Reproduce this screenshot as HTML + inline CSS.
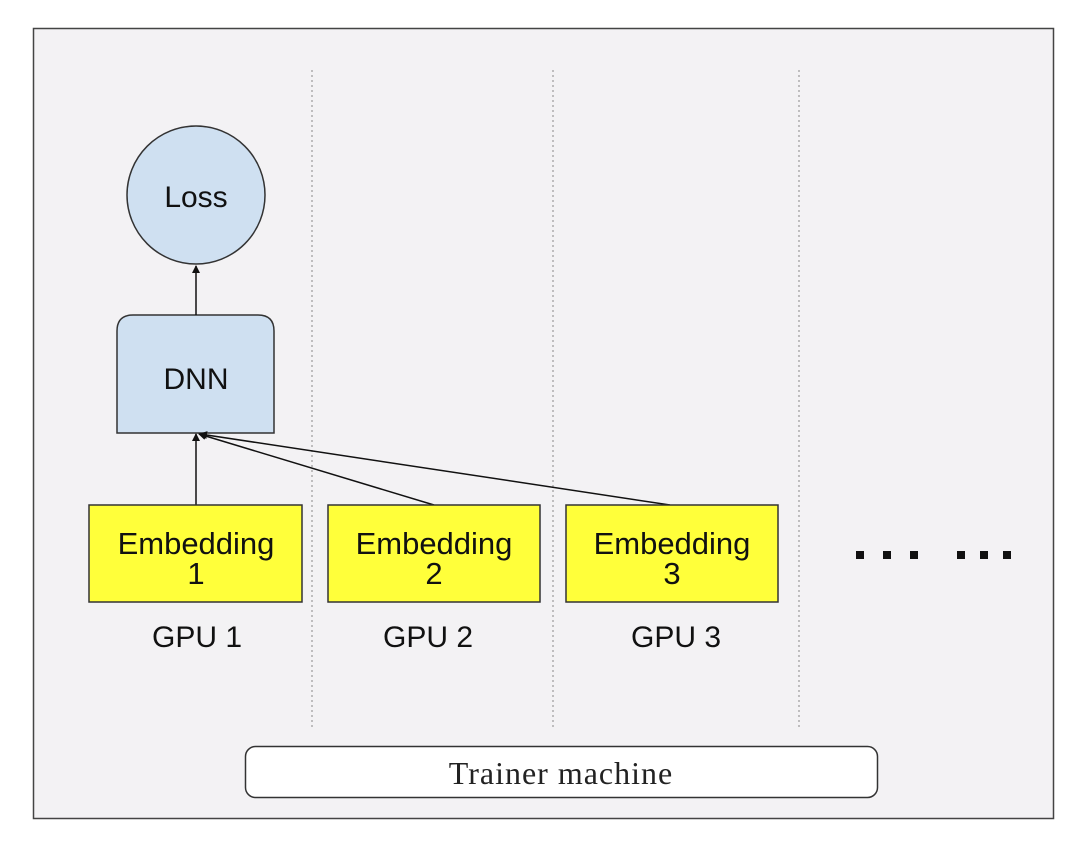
<!DOCTYPE html>
<html><head><meta charset="utf-8"><style>
html,body{margin:0;padding:0;background:#fff;width:1080px;height:841px;overflow:hidden}
</style></head><body>
<svg width="1080" height="841" viewBox="0 0 1080 841" xmlns="http://www.w3.org/2000/svg">
<defs><marker id="a" markerWidth="8" markerHeight="8" refX="7" refY="4" orient="auto" markerUnits="userSpaceOnUse"><path d="M0,0 L8,4 L0,8 z" fill="#111"/></marker></defs>
<rect x="33.5" y="28.5" width="1020" height="790" fill="#f3f2f4" stroke="#444" stroke-width="1.5"/>
<g stroke="#888" stroke-width="1" stroke-dasharray="2,3">
<line x1="312" y1="70" x2="312" y2="730"/><line x1="553" y1="70" x2="553" y2="730"/><line x1="799" y1="70" x2="799" y2="730"/>
</g>
<circle cx="196" cy="195" r="69" fill="#cfe0f1" stroke="#333" stroke-width="1.5"/>
<text x="196" y="207" font-family="Liberation Sans, sans-serif" font-size="30" text-anchor="middle" fill="#111">Loss</text>
<path d="M117,433 L117,331 Q117,315 133,315 L258,315 Q274,315 274,331 L274,433 Z" fill="#cfe0f1" stroke="#333" stroke-width="1.5"/>
<text x="196" y="389" font-family="Liberation Sans, sans-serif" font-size="30" text-anchor="middle" fill="#111">DNN</text>
<g stroke="#111" stroke-width="1.5" fill="none">
<line x1="196" y1="315" x2="196" y2="266" marker-end="url(#a)"/>
<line x1="196" y1="505" x2="196" y2="434" marker-end="url(#a)"/>
<line x1="434" y1="505" x2="199" y2="434" marker-end="url(#a)"/>
<line x1="670" y1="505" x2="200" y2="434" marker-end="url(#a)"/>
</g>
<g fill="#ffff3a" stroke="#333" stroke-width="1.5">
<rect x="89" y="505" width="213" height="97"/><rect x="328" y="505" width="212" height="97"/><rect x="566" y="505" width="212" height="97"/>
</g>
<g font-family="Liberation Sans, sans-serif" font-size="31" text-anchor="middle" fill="#111">
<text x="196" y="554">Embedding</text><text x="196" y="584">1</text>
<text x="434" y="554">Embedding</text><text x="434" y="584">2</text>
<text x="672" y="554">Embedding</text><text x="672" y="584">3</text>
<text x="197" y="647" font-size="30">GPU 1</text>
<text x="428" y="647" font-size="30">GPU 2</text>
<text x="676" y="647" font-size="30">GPU 3</text>
</g>
<g fill="#111">
<rect x="856" y="551" width="8" height="8"/><rect x="883" y="551" width="8" height="8"/><rect x="910" y="551" width="8" height="8"/>
<rect x="957" y="551" width="8" height="8"/><rect x="980" y="551" width="8" height="8"/><rect x="1003" y="551" width="8" height="8"/>
</g>
<rect x="245.5" y="746.5" width="632" height="51" rx="10" fill="#fff" stroke="#333" stroke-width="1.5"/>
<text x="561" y="784" font-family="Liberation Serif, serif" font-size="32" letter-spacing="1" text-anchor="middle" fill="#222">Trainer machine</text>
</svg>
</body></html>
